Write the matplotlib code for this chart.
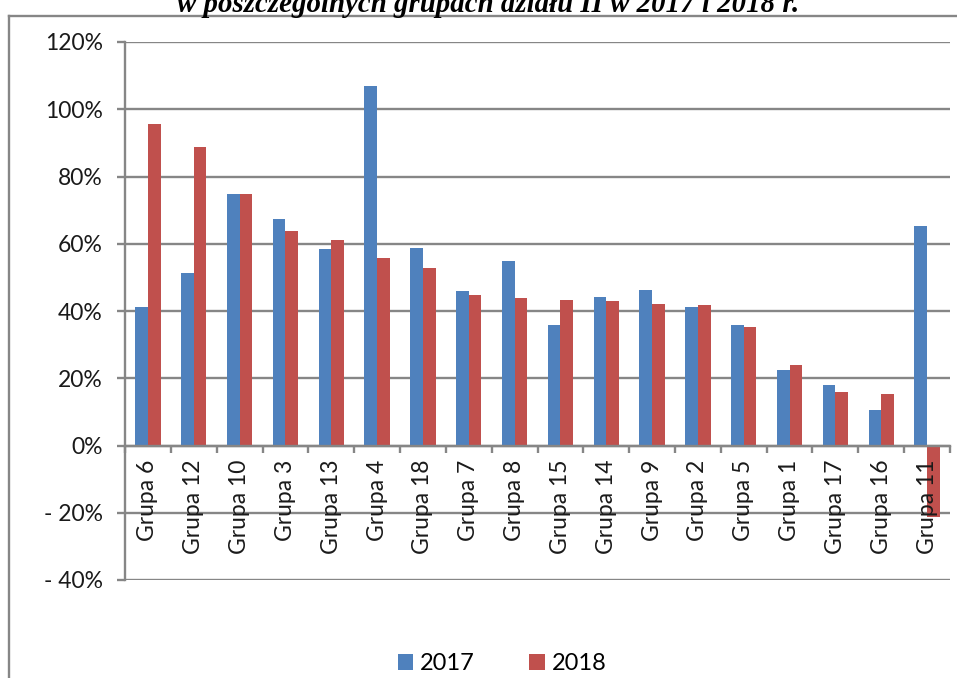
import matplotlib
matplotlib.use("Agg")
import matplotlib.pyplot as plt
import numpy as np
from matplotlib.lines import Line2D
from matplotlib.ticker import FuncFormatter

# dane
grupy = ["Grupa 6", "Grupa 12", "Grupa 10", "Grupa 3", "Grupa 13", "Grupa 4",
         "Grupa 18", "Grupa 7", "Grupa 8", "Grupa 15", "Grupa 14", "Grupa 9",
         "Grupa 2", "Grupa 5", "Grupa 1", "Grupa 17", "Grupa 16", "Grupa 11"]
w2017 = [41.3, 51.4, 74.9, 67.5, 58.5, 107.0, 58.8, 45.8, 55.0, 35.7,
         44.3, 46.1, 41.3, 35.7, 22.4, 17.9, 10.6, 65.4]
w2018 = [95.7, 88.9, 74.9, 63.9, 61.2, 55.9, 52.9, 44.9, 44.0, 43.4,
         43.1, 42.2, 41.9, 35.1, 24.0, 16.0, 15.2, -21.3]
yticks = [-40, -20, 0, 20, 40, 60, 80, 100, 120]

NIEBIESKI = "#4F81BD"
CZERWONY = "#C0504D"
SZARY = "#868686"
FS = 16.5

plt.rcParams['font.family'] = ['Lato', 'DejaVu Sans']

fig = plt.figure(figsize=(9.57, 6.78), dpi=100)
ax = fig.add_axes([125/957, 1 - 580/678, (950 - 125)/957, (580 - 42)/678])

# osie - najpierw pozycja spine (resetuje ticki)
ax.spines['top'].set_visible(False)
ax.spines['right'].set_visible(False)
ax.spines['bottom'].set_position(('data', 0))
ax.spines['bottom'].set_color(SZARY)
ax.spines['bottom'].set_linewidth(1.7)
ax.spines['left'].set_color(SZARY)
ax.spines['left'].set_linewidth(1.7)

x = np.arange(len(grupy))
szer = 0.277
b1 = ax.bar(x - szer/2, w2017, szer, color=NIEBIESKI, zorder=1, label="2017")
b2 = ax.bar(x + szer/2, w2018, szer, color=CZERWONY, zorder=1, label="2018")

# linie siatki
for t in yticks:
    ax.axhline(t, color=SZARY, lw=1.7, zorder=0)

ax.set_xlim(-0.5, len(grupy) - 0.5)
ax.set_ylim(-40, 120)
ax.set_yticks(yticks)
ax.yaxis.set_major_formatter(FuncFormatter(
    lambda v, p: f"{v:.0f}%" if v >= 0 else f"- {abs(v):.0f}%"))
ax.tick_params(axis='y', length=6, width=1.7, color=SZARY, pad=10,
               labelsize=FS, labelcolor="#1a1a1a")

ax.set_xticks(x)
ax.set_xticks(np.arange(len(grupy) + 1) - 0.5, minor=True)
ax.tick_params(axis='x', which='major', length=0, pad=10, labelrotation=90,
               labelsize=FS, labelcolor="#1a1a1a")
ax.tick_params(axis='x', which='minor', length=5, width=1.7, color=SZARY,
               direction='out')
ax.set_xticklabels(grupy, rotation=90, va='top', ha='center')

# ramka wykresu
yr = 1 - 16/678
xr = 9/957
fig.add_artist(Line2D([xr, xr], [0, yr], color=SZARY, lw=1.7))
fig.add_artist(Line2D([xr, 1], [yr, yr], color=SZARY, lw=1.7))

# tytul (ucięty u góry)
fig.text(488/957, 1 - 12/678, "w poszczególnych grupach działu II w 2017 i 2018 r.",
         family="Liberation Serif", weight="bold", style="italic", fontsize=20.8,
         ha='center', va='baseline')

fig.legend(handles=[b1, b2], labels=["2017", "2018"], loc='center',
           bbox_to_anchor=(502/957, 1 - 664/678), ncol=2, frameon=False,
           fontsize=17, handlelength=0.65, handleheight=0.65,
           handletextpad=0.3, columnspacing=2.3)

fig.savefig("out.png", dpi=100)
